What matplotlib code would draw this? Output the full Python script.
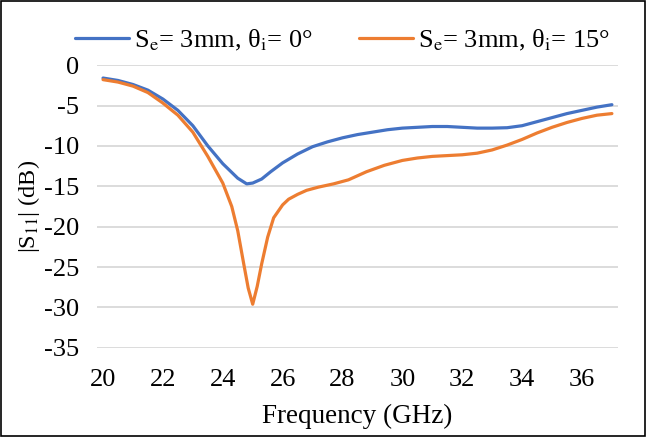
import matplotlib
matplotlib.use('Agg')
import matplotlib.pyplot as plt
from matplotlib.patches import Rectangle

plt.rcParams['font.family'] = ['Liberation Serif', 'DejaVu Serif']
plt.rcParams['mathtext.fontset'] = 'stix'
plt.rcParams['axes.unicode_minus'] = False

# blue curve: theta_i = 0 deg
freq_a = [20, 20.5, 21, 21.5, 22, 22.5, 23, 23.5, 24, 24.5, 24.8, 25, 25.3, 25.6,
          26, 26.5, 27, 27.5, 28, 28.5, 29, 29.5, 30, 30.5, 31, 31.5, 32, 32.5,
          33, 33.5, 34, 34.5, 35, 35.5, 36, 36.5, 37]
s11_a = [-1.6, -1.9, -2.4, -3.1, -4.2, -5.6, -7.5, -10.0, -12.2, -14.0, -14.7, -14.6,
         -14.1, -13.2, -12.1, -11.0, -10.1, -9.5, -9.0, -8.6, -8.3, -8.0, -7.8, -7.7,
         -7.6, -7.6, -7.7, -7.8, -7.8, -7.75, -7.5, -7.0, -6.5, -6.0, -5.6, -5.2, -4.9]

# orange curve: theta_i = 15 deg
freq_b = [20, 20.5, 21, 21.5, 22, 22.5, 23, 23.5, 24, 24.3, 24.5, 24.7, 24.85, 25,
          25.15, 25.3, 25.5, 25.7, 26, 26.2, 26.5, 26.8, 27.2, 27.7, 28.2, 28.8, 29.4,
          30, 30.5, 31, 31.5, 32, 32.5, 33, 33.5, 34, 34.5, 35, 35.5, 36, 36.5, 37]
s11_b = [-1.8, -2.1, -2.6, -3.4, -4.7, -6.2, -8.3, -11.3, -14.6, -17.5, -20.5, -24.6,
         -27.6, -29.6, -27.4, -24.6, -21.3, -18.9, -17.3, -16.6, -16.0, -15.5, -15.1,
         -14.7, -14.2, -13.2, -12.4, -11.8, -11.5, -11.3, -11.2, -11.1, -10.9, -10.5,
         -9.9, -9.2, -8.4, -7.7, -7.1, -6.6, -6.2, -6.0]

labels = [r'S$_\mathrm{e}$= 3mm, θ$_\mathrm{i}$= 0°',
          r'S$_\mathrm{e}$= 3mm, θ$_\mathrm{i}$= 15°']
xticks = list(range(20, 37, 2))
yticks = list(range(-35, 1, 5))

fig = plt.figure(figsize=(6.47, 4.37), dpi=100)
ax = fig.add_axes([0.150, 0.204, 0.805, 0.647])

ax.plot(freq_a, s11_a, color='#4472C4', lw=2.3, label=labels[0], solid_capstyle='round')
ax.plot(freq_b, s11_b, color='#ED7D31', lw=2.3, label=labels[1], solid_capstyle='round')

ax.set_xlim(19.8, 37.2)
ax.set_ylim(-35, 0)
ax.set_xticks(xticks)
ax.set_yticks(yticks)
ax.grid(axis='y', color='#d9d9d9', lw=1.3)
ax.set_axisbelow(True)
for s in ax.spines.values():
    s.set_visible(False)
ax.tick_params(axis='both', length=0, labelsize=19)
ax.tick_params(axis='y', pad=13)
ax.tick_params(axis='x', pad=15)

ax.set_xlabel('Frequency (GHz)', fontsize=19.5, labelpad=9.5)
ax.set_ylabel(r'|S$_{11}$| (dB)', fontsize=17.5, labelpad=1)

fig.legend(loc='center', bbox_to_anchor=(0.529, 0.908), ncol=2, frameon=False,
           fontsize=19, handlelength=2.05, handletextpad=0.2, columnspacing=1.75)

fig.patches.append(Rectangle((0.002, 0.002), 0.995, 0.995, transform=fig.transFigure,
                             fill=False, edgecolor='black', lw=1.2))

fig.savefig('out.png', dpi=100)
